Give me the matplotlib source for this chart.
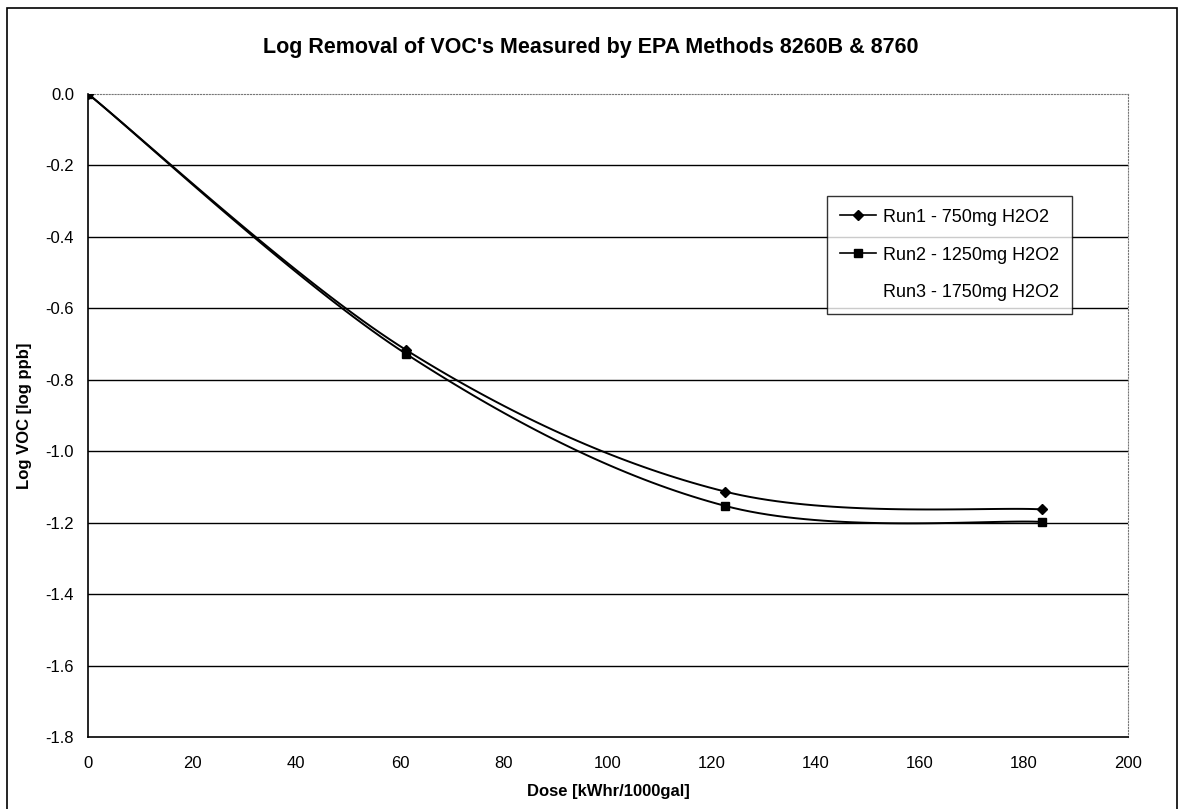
import numpy as np
import matplotlib
matplotlib.use('Agg')
import matplotlib.pyplot as plt
from matplotlib.patches import Rectangle

plt.rcParams['font.family'] = ['Liberation Sans', 'DejaVu Sans']

# data
dose = [0, 61.2, 122.5, 183.5]
run1 = [0.0, -0.717, -1.113, -1.163]
run2 = [0.0, -0.728, -1.153, -1.198]
run3_dose = []
run3 = []
labels = ['Run1 - 750mg H2O2', 'Run2 - 1250mg H2O2', 'Run3 - 1750mg H2O2']
yticks = np.arange(-1.8, 0.01, 0.2)
ytick_labels = ['-1.8', '-1.6', '-1.4', '-1.2', '-1.0', '-0.8', '-0.6', '-0.4', '-0.2', '0.0']
xticks = np.arange(0, 201, 20)


def smooth(x, y, n=40):
    # Excel style smoothed line (bezier through the points)
    p = np.column_stack([x, y]).astype(float)
    out = [p[0]]
    for i in range(len(p) - 1):
        p0 = p[i - 1] if i > 0 else p[i]
        p3 = p[i + 2] if i + 2 < len(p) else p[i + 1]
        c1 = p[i] + (p[i + 1] - p0) / 6
        c2 = p[i + 1] - (p3 - p[i]) / 6
        t = np.linspace(0, 1, n)[1:, None]
        seg = ((1 - t) ** 3 * p[i] + 3 * (1 - t) ** 2 * t * c1
               + 3 * (1 - t) * t ** 2 * c2 + t ** 3 * p[i + 1])
        out.extend(seg)
    out = np.array(out)
    return out[:, 0], out[:, 1]


fig = plt.figure(figsize=(11.81, 8.09), dpi=100)
ax = fig.add_axes([0.0745, 0.089, 0.8805, 0.795])

# outer chart frame
fig.patches.append(Rectangle((0.006, -0.01), 0.991, 1.0, transform=fig.transFigure,
                             fill=False, edgecolor='black', linewidth=1.2))

for yv in yticks[1:-1]:
    ax.axhline(yv, color='black', linewidth=1.0, zorder=1)

sx, sy = smooth(dose, run1)
ax.plot(sx, sy, color='black', linewidth=1.4, zorder=3)
ax.plot(dose, run1, linestyle='none', marker='D', markersize=5, color='black', zorder=4)
sx, sy = smooth(dose, run2)
ax.plot(sx, sy, color='black', linewidth=1.4, zorder=3)
ax.plot(dose, run2, linestyle='none', marker='s', markersize=5.5, color='black', zorder=4)

h1, = ax.plot([], [], color='black', marker='D', markersize=5, linewidth=1.2)
h2, = ax.plot([], [], color='black', marker='s', markersize=5.5, linewidth=1.2)
h3, = ax.plot(run3_dose, run3, color='white', linewidth=1.2)

ax.set_xlim(0, 200)
ax.set_ylim(-1.8, 0.0)
ax.set_xticks(xticks)
ax.set_yticks(yticks)
ax.set_yticklabels(ytick_labels)
ax.tick_params(length=0, labelsize=12)
ax.tick_params(axis='x', pad=14)
ax.tick_params(axis='y', pad=10)

for side in ['top', 'right']:
    ax.spines[side].set_linestyle(':')
    ax.spines[side].set_color('#777777')
ax.spines['left'].set_color('black')
ax.spines['bottom'].set_color('black')
ax.spines['left'].set_linewidth(1.2)
ax.spines['bottom'].set_linewidth(1.2)

ax.set_xlabel('Dose [kWhr/1000gal]', fontsize=12, fontweight='bold', labelpad=9)
ax.set_ylabel('Log VOC [log ppb]', fontsize=12, fontweight='bold', labelpad=10)
fig.text(0.5, 1 - 47 / 809, "Log Removal of VOC's Measured by EPA Methods 8260B & 8760",
         ha='center', va='center', fontsize=15.5, fontweight='bold')

leg = ax.legend([h1, h2, h3], labels, loc='upper left', bbox_to_anchor=(0.702, 0.855),
                fontsize=13, frameon=True, fancybox=False, handlelength=2.0,
                borderpad=0.7, labelspacing=1.15, handletextpad=0.4)
leg.get_frame().set_edgecolor('black')
leg.get_frame().set_linewidth(1.0)

fig.savefig('out.png', dpi=100)
